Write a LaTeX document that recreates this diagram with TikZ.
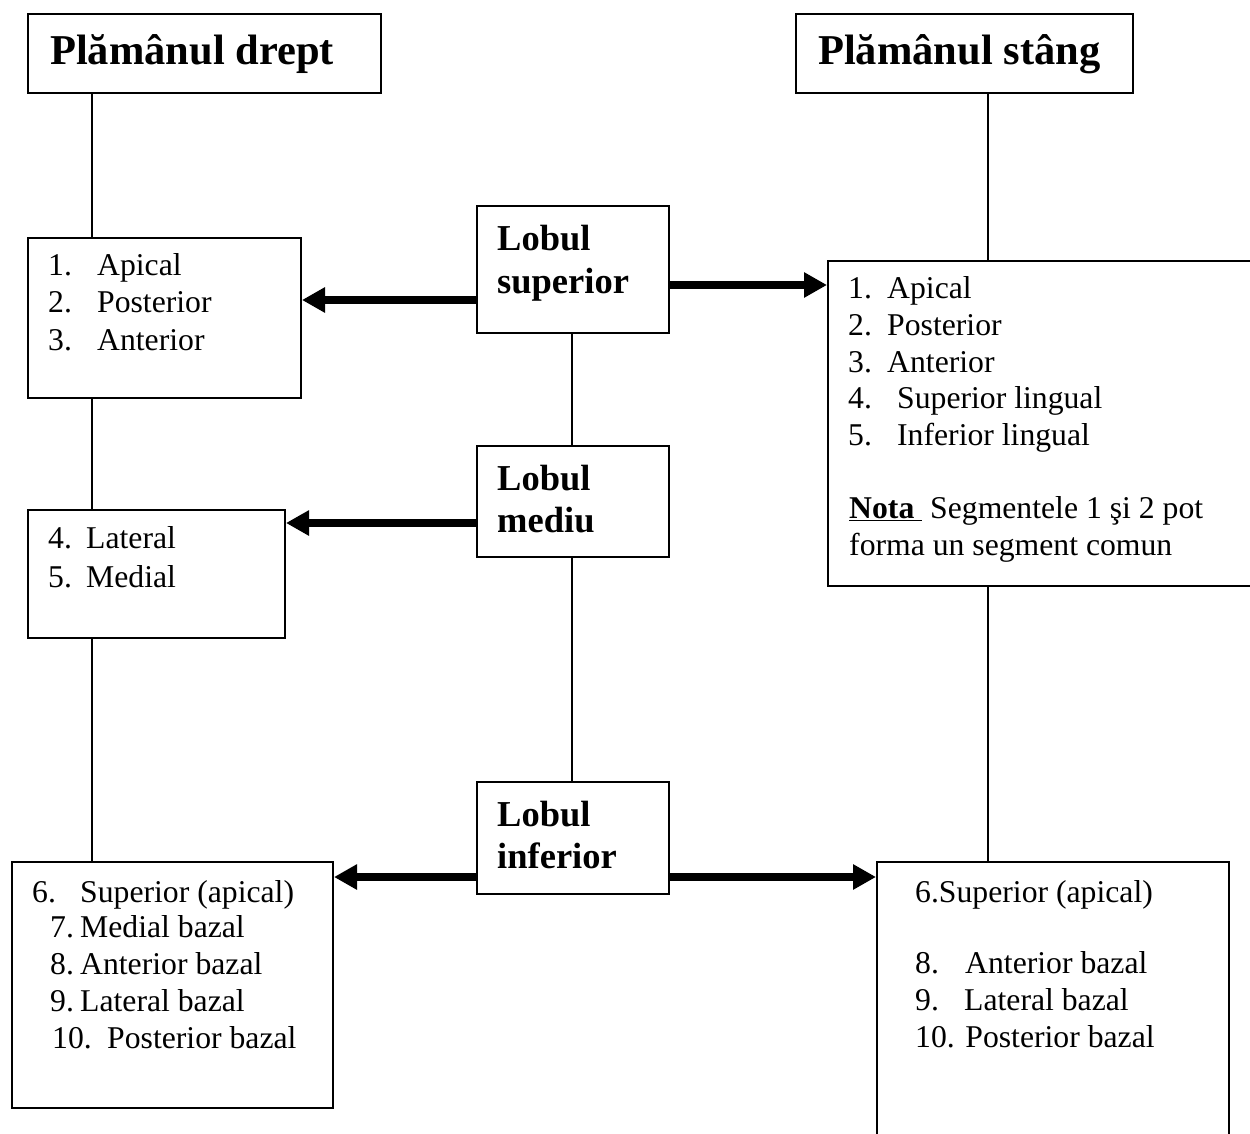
\documentclass[tikz,border=0pt]{standalone}
\usepackage{fontspec}
\setmainfont{Liberation Serif}
\usetikzlibrary{arrows.meta,calc}

\tikzset{
  box/.style={draw, line width=2pt, rectangle, inner sep=0pt, anchor=north west},
  link/.style={line width=1.6pt},
  arr/.style={line width=7.5pt, -{Triangle[length=23pt,width=24pt]}},
  head/.style={inner sep=0pt, anchor=base west, font=\fontsize{42.5}{48}\selectfont\bfseries},
  lobe/.style={inner sep=0pt, anchor=base west, font=\fontsize{36.5}{42}\selectfont\bfseries},
  item/.style={inner sep=0pt, anchor=base west, font=\fontsize{31.7}{36.5}\selectfont},
}
\newcommand{\num}[2]{\makebox[#1pt][l]{#2}}

\begin{document}
\begin{tikzpicture}[x=1pt,y=-1pt]
\useasboundingbox (0,0) rectangle (1250,1134);
\fill[white] (0,0) rectangle (1250,1134);
\clip (0,0) rectangle (1250,1134);

% lung headers
\node[box, minimum width=353pt, minimum height=79pt] (rl) at (27,13) {};
\node[head] (rlt) at (50,65) {Plămânul drept};
\node[box, minimum width=337pt, minimum height=79pt] (ll) at (795,13) {};
\node[head] (llt) at (818,65) {Plămânul stâng};

% right lung segment boxes
\node[box, minimum width=273pt, minimum height=160pt] (r1) at (27,237) {};
\node[item] (r1a) at (48,275) {\num{49}{1.}Apical};
\node[item] (r1b) at (48,312) {\num{49}{2.}Posterior};
\node[item] (r1c) at (48,350) {\num{49}{3.}Anterior};

\node[box, minimum width=257pt, minimum height=128pt] (r2) at (27,509) {};
\node[item] (r2a) at (48,548) {\num{38}{4.}Lateral};
\node[item] (r2b) at (48,587) {\num{38}{5.}Medial};

\node[box, minimum width=321pt, minimum height=246pt] (r3) at (11,861) {};
\node[item] (r3a) at (32,902) {\num{48}{6.}Superior (apical)};
\node[item] (r3b) at (50,937) {\num{30}{7.}Medial bazal};
\node[item] (r3c) at (50,974) {\num{30}{8.}Anterior bazal};
\node[item] (r3d) at (50,1011) {\num{30}{9.}Lateral bazal};
\node[item] (r3e) at (52,1048) {\num{55}{10.}Posterior bazal};

% lobes
\node[box, minimum width=192pt, minimum height=127pt] (ls) at (476,205) {};
\node[lobe] (lsa) at (497,251) {Lobul};
\node[lobe] (lsb) at (497,293) {superior};
\node[box, minimum width=192pt, minimum height=111pt] (lm) at (476,445) {};
\node[lobe] (lma) at (497,490) {Lobul};
\node[lobe] (lmb) at (497,532) {mediu};
\node[box, minimum width=192pt, minimum height=112pt] (li) at (476,781) {};
\node[lobe] (lia) at (497,826) {Lobul};
\node[lobe] (lib) at (497,868) {inferior};

% left lung segment boxes
\node[box, minimum width=440pt, minimum height=325pt] (l1) at (827,260) {};
\node[item] (l1a) at (848,298) {\num{39}{1.}Apical};
\node[item] (l1b) at (848,335) {\num{39}{2.}Posterior};
\node[item] (l1c) at (848,372) {\num{39}{3.}Anterior};
\node[item] (l1d) at (848,408) {\num{49}{4.}Superior lingual};
\node[item] (l1e) at (848,445) {\num{49}{5.}Inferior lingual};
\node[item] (l1f) at (849,518) {\underline{\textbf{Nota}\ }\ Segmentele 1 şi 2 pot};
\node[item] (l1g) at (849,555) {forma un segment comun};

\node[box, minimum width=352pt, minimum height=320pt] (l2) at (876,861) {};
\node[item] (l2a) at (915,902) {6.Superior (apical)};
\node[item] (l2c) at (915,973) {\num{50}{8.}Anterior bazal};
\node[item] (l2d) at (915,1010) {\num{49}{9.}Lateral bazal};
\node[item] (l2e) at (915,1047) {10. Posterior bazal};

% vertical trunks
\draw[link] (rl.south -| 92,0) -- (r1.north -| 92,0);
\draw[link] (r1.south -| 92,0) -- (r2.north -| 92,0);
\draw[link] (r2.south -| 92,0) -- (r3.north -| 92,0);
\draw[link] (ls.south -| 572,0) -- (lm.north -| 572,0);
\draw[link] (lm.south -| 572,0) -- (li.north -| 572,0);
\draw[link] (ll.south -| 988,0) -- (l1.north -| 988,0);
\draw[link] (l1.south -| 988,0) -- (l2.north -| 988,0);

% lobe arrows
\draw[arr] (ls.west |- 0,300) -- (r1.east |- 0,300);
\draw[arr] (ls.east |- 0,285) -- (l1.west |- 0,285);
\draw[arr] (lm.west |- 0,523) -- (r2.east |- 0,523);
\draw[arr] (li.west |- 0,877) -- (r3.east |- 0,877);
\draw[arr] (li.east |- 0,877) -- (l2.west |- 0,877);
\end{tikzpicture}
\end{document}
